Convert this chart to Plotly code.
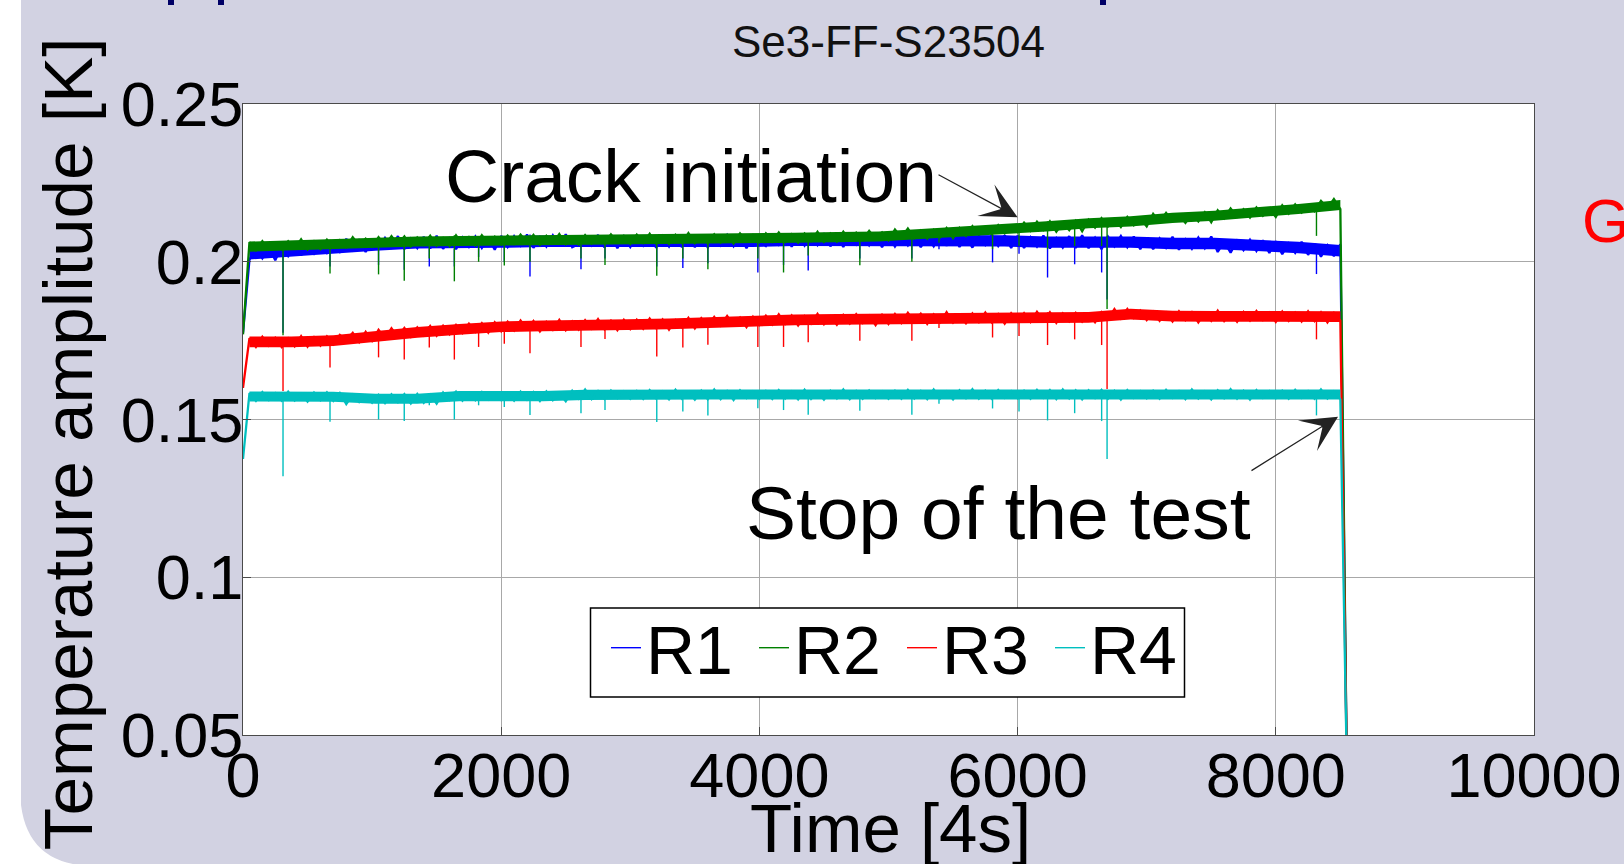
import plotly.graph_objects as go

# ---------------- data ----------------
T0 = 0      # first sample time [4s]
DT = 50

R1 = [
    0.1775, 0.2007, 0.2041, 0.2011, 0.2046, 0.2005, 0.2050, 0.2018, 0.2054, 0.2020,
    0.2057, 0.2026, 0.2059, 0.2028, 0.2062, 0.2032, 0.2073, 0.2037, 0.2071, 0.2031,
    0.2068, 0.2042, 0.2076, 0.2046, 0.2081, 0.2040, 0.2073, 0.2043, 0.2079, 0.2042,
    0.2082, 0.2041, 0.2074, 0.2040, 0.2077, 0.2047, 0.2080, 0.2044, 0.2078, 0.2038,
    0.2082, 0.2047, 0.2081, 0.2051, 0.2086, 0.2044, 0.2078, 0.2048, 0.2084, 0.2050,
    0.2087, 0.2046, 0.2056, 0.2082, 0.2052, 0.2085, 0.2045, 0.2083, 0.2043, 0.2080,
    0.2047, 0.2081, 0.2051, 0.2086, 0.2044, 0.2078, 0.2048, 0.2084, 0.2046, 0.2087,
    0.2046, 0.2079, 0.2045, 0.2082, 0.2052, 0.2085, 0.2049, 0.2083, 0.2043, 0.2080,
    0.2066, 0.2050, 0.2084, 0.2054, 0.2088, 0.2048, 0.2081, 0.2051, 0.2086, 0.2053,
    0.2090, 0.2049, 0.2082, 0.2047, 0.2085, 0.2055, 0.2087, 0.2052, 0.2086, 0.2046,
    0.2083, 0.2048, 0.2082, 0.2052, 0.2086, 0.2046, 0.2079, 0.2049, 0.2085, 0.2051,
    0.2088, 0.2047, 0.2080, 0.2045, 0.2083, 0.2053, 0.2085, 0.2050, 0.2084, 0.2044,
    0.2082, 0.2044, 0.2078, 0.2048, 0.2083, 0.2042, 0.2075, 0.2045, 0.2081, 0.2044,
    0.2084, 0.2043, 0.2076, 0.2040, 0.2080, 0.2049, 0.2082, 0.2046, 0.2080, 0.2040,
    0.2077, 0.2040, 0.2074, 0.2044, 0.2079, 0.2038, 0.2071, 0.2041, 0.2077, 0.2043,
    0.2080, 0.2031, 0.2064, 0.2029, 0.2067, 0.2037, 0.2070, 0.2034, 0.2068, 0.2028,
    0.2065, 0.2024, 0.2058, 0.2028, 0.2063, 0.2022, 0.2057, 0.2016, 0.2052, 0.2018,
    0.2055, 0.0400,
]

R2 = [
    0.1770, 0.2062, 0.2036, 0.2065, 0.2039, 0.2059, 0.2040, 0.2065, 0.2042, 0.2071,
    0.2039, 0.2065, 0.2040, 0.2070, 0.2045, 0.2068, 0.2046, 0.2078, 0.2052, 0.2073,
    0.2048, 0.2078, 0.2052, 0.2081, 0.2055, 0.2080, 0.2049, 0.2077, 0.2054, 0.2082,
    0.2051, 0.2075, 0.2050, 0.2084, 0.2055, 0.2078, 0.2052, 0.2084, 0.2058, 0.2079,
    0.2055, 0.2083, 0.2057, 0.2086, 0.2060, 0.2085, 0.2054, 0.2082, 0.2059, 0.2088,
    0.2056, 0.2078, 0.2055, 0.2084, 0.2058, 0.2081, 0.2058, 0.2087, 0.2061, 0.2082,
    0.2057, 0.2086, 0.2060, 0.2089, 0.2058, 0.2083, 0.2057, 0.2085, 0.2060, 0.2091,
    0.2059, 0.2081, 0.2059, 0.2087, 0.2061, 0.2084, 0.2058, 0.2090, 0.2064, 0.2085,
    0.2062, 0.2090, 0.2064, 0.2093, 0.2063, 0.2087, 0.2061, 0.2089, 0.2066, 0.2095,
    0.2063, 0.2089, 0.2064, 0.2095, 0.2069, 0.2092, 0.2070, 0.2098, 0.2072, 0.2093,
    0.2068, 0.2102, 0.2076, 0.2105, 0.2075, 0.2099, 0.2073, 0.2101, 0.2078, 0.2107,
    0.2075, 0.2107, 0.2082, 0.2113, 0.2087, 0.2110, 0.2088, 0.2116, 0.2090, 0.2111,
    0.2094, 0.2124, 0.2098, 0.2127, 0.2101, 0.2128, 0.2095, 0.2123, 0.2100, 0.2130,
    0.2097, 0.2133, 0.2108, 0.2138, 0.2112, 0.2136, 0.2110, 0.2142, 0.2116, 0.2137,
    0.2112, 0.2152, 0.2126, 0.2155, 0.2129, 0.2149, 0.2123, 0.2151, 0.2128, 0.2157,
    0.2125, 0.2163, 0.2138, 0.2169, 0.2143, 0.2166, 0.2140, 0.2172, 0.2146, 0.2167,
    0.2142, 0.2179, 0.2153, 0.2182, 0.2156, 0.2176, 0.2160, 0.2193, 0.2170, 0.2199,
    0.2167, 0.0400,
]

R3 = [
    0.1600, 0.1758, 0.1730, 0.1762, 0.1734, 0.1759, 0.1730, 0.1757, 0.1732, 0.1764,
    0.1731, 0.1761, 0.1734, 0.1763, 0.1738, 0.1768, 0.1752, 0.1775, 0.1745, 0.1778,
    0.1749, 0.1784, 0.1757, 0.1789, 0.1761, 0.1790, 0.1762, 0.1792, 0.1767, 0.1796,
    0.1766, 0.1797, 0.1770, 0.1800, 0.1774, 0.1804, 0.1778, 0.1805, 0.1775, 0.1808,
    0.1780, 0.1810, 0.1782, 0.1814, 0.1786, 0.1812, 0.1779, 0.1809, 0.1784, 0.1816,
    0.1783, 0.1811, 0.1785, 0.1815, 0.1788, 0.1818, 0.1786, 0.1813, 0.1783, 0.1816,
    0.1787, 0.1816, 0.1788, 0.1820, 0.1790, 0.1817, 0.1785, 0.1815, 0.1792, 0.1822,
    0.1789, 0.1821, 0.1797, 0.1825, 0.1798, 0.1828, 0.1800, 0.1823, 0.1793, 0.1826,
    0.1800, 0.1829, 0.1801, 0.1833, 0.1803, 0.1830, 0.1798, 0.1828, 0.1804, 0.1835,
    0.1802, 0.1827, 0.1800, 0.1831, 0.1804, 0.1834, 0.1806, 0.1829, 0.1799, 0.1832,
    0.1803, 0.1834, 0.1806, 0.1838, 0.1809, 0.1835, 0.1803, 0.1833, 0.1808, 0.1840,
    0.1807, 0.1832, 0.1805, 0.1836, 0.1809, 0.1839, 0.1808, 0.1834, 0.1804, 0.1837,
    0.1810, 0.1837, 0.1809, 0.1841, 0.1813, 0.1840, 0.1806, 0.1836, 0.1811, 0.1838,
    0.1810, 0.1835, 0.1808, 0.1840, 0.1818, 0.1850, 0.1820, 0.1850, 0.1822, 0.1845,
    0.1815, 0.1842, 0.1813, 0.1839, 0.1811, 0.1843, 0.1815, 0.1840, 0.1808, 0.1838,
    0.1813, 0.1845, 0.1812, 0.1837, 0.1810, 0.1841, 0.1814, 0.1844, 0.1816, 0.1839,
    0.1809, 0.1842, 0.1813, 0.1839, 0.1811, 0.1843, 0.1812, 0.1840, 0.1808, 0.1838,
    0.1813, 0.0400,
]

R4 = [
    0.1375, 0.1584, 0.1559, 0.1587, 0.1562, 0.1583, 0.1560, 0.1588, 0.1560, 0.1582,
    0.1557, 0.1585, 0.1561, 0.1586, 0.1559, 0.1584, 0.1549, 0.1579, 0.1555, 0.1576,
    0.1553, 0.1578, 0.1552, 0.1580, 0.1555, 0.1580, 0.1551, 0.1581, 0.1553, 0.1579,
    0.1550, 0.1586, 0.1562, 0.1588, 0.1560, 0.1585, 0.1561, 0.1587, 0.1563, 0.1584,
    0.1562, 0.1585, 0.1560, 0.1588, 0.1563, 0.1587, 0.1559, 0.1589, 0.1561, 0.1583,
    0.1558, 0.1591, 0.1566, 0.1595, 0.1565, 0.1590, 0.1565, 0.1592, 0.1568, 0.1589,
    0.1566, 0.1590, 0.1565, 0.1593, 0.1567, 0.1589, 0.1564, 0.1594, 0.1566, 0.1588,
    0.1563, 0.1591, 0.1564, 0.1595, 0.1565, 0.1590, 0.1562, 0.1592, 0.1568, 0.1589,
    0.1566, 0.1590, 0.1565, 0.1593, 0.1567, 0.1589, 0.1564, 0.1594, 0.1565, 0.1588,
    0.1563, 0.1591, 0.1567, 0.1595, 0.1565, 0.1590, 0.1566, 0.1592, 0.1568, 0.1589,
    0.1566, 0.1591, 0.1566, 0.1594, 0.1567, 0.1590, 0.1565, 0.1595, 0.1567, 0.1589,
    0.1564, 0.1592, 0.1568, 0.1596, 0.1566, 0.1591, 0.1566, 0.1593, 0.1569, 0.1590,
    0.1567, 0.1591, 0.1566, 0.1594, 0.1569, 0.1593, 0.1565, 0.1595, 0.1567, 0.1592,
    0.1564, 0.1592, 0.1568, 0.1594, 0.1566, 0.1591, 0.1563, 0.1593, 0.1569, 0.1590,
    0.1567, 0.1591, 0.1566, 0.1594, 0.1569, 0.1590, 0.1565, 0.1595, 0.1567, 0.1589,
    0.1564, 0.1592, 0.1568, 0.1596, 0.1566, 0.1591, 0.1563, 0.1593, 0.1569, 0.1590,
    0.1567, 0.1591, 0.1566, 0.1594, 0.1569, 0.1590, 0.1566, 0.1595, 0.1567, 0.1589,
    0.1564, 0.0400,
]

# dense core of each noisy band (upper / lower edge), sampled coarsely
BAND_T0 = 50
BAND_DT = 325
R1_HI = [0.2043, 0.2053, 0.2063, 0.2071, 0.2078, 0.2078, 0.2080, 0.2083, 0.2083, 0.2083,
         0.2083, 0.2083, 0.2083, 0.2086, 0.2086, 0.2086, 0.2084, 0.2084, 0.2084, 0.2080,
         0.2080, 0.2080, 0.2076, 0.2076, 0.2070, 0.2063, 0.2053]
R1_LO = [0.2007, 0.2017, 0.2027, 0.2035, 0.2042, 0.2042, 0.2044, 0.2047, 0.2047, 0.2047,
         0.2047, 0.2047, 0.2047, 0.2050, 0.2050, 0.2050, 0.2048, 0.2048, 0.2048, 0.2044,
         0.2044, 0.2044, 0.2040, 0.2040, 0.2034, 0.2027, 0.2017]
R2_HI = [0.2064, 0.2068, 0.2072, 0.2078, 0.2080, 0.2082, 0.2083, 0.2085, 0.2085, 0.2086,
         0.2088, 0.2088, 0.2089, 0.2092, 0.2094, 0.2096, 0.2104, 0.2112, 0.2119, 0.2128,
         0.2138, 0.2144, 0.2155, 0.2162, 0.2173, 0.2183, 0.2196]
R2_LO = [0.2032, 0.2036, 0.2040, 0.2046, 0.2048, 0.2050, 0.2051, 0.2053, 0.2053, 0.2054,
         0.2056, 0.2056, 0.2057, 0.2060, 0.2062, 0.2064, 0.2072, 0.2080, 0.2087, 0.2096,
         0.2106, 0.2112, 0.2123, 0.2130, 0.2141, 0.2151, 0.2164]
R3_HI = [0.1763, 0.1763, 0.1767, 0.1781, 0.1793, 0.1803, 0.1811, 0.1814, 0.1817, 0.1818,
         0.1820, 0.1825, 0.1828, 0.1833, 0.1834, 0.1835, 0.1838, 0.1839, 0.1839, 0.1841,
         0.1841, 0.1851, 0.1845, 0.1844, 0.1843, 0.1843, 0.1843]
R3_LO = [0.1729, 0.1729, 0.1733, 0.1747, 0.1759, 0.1769, 0.1777, 0.1780, 0.1783, 0.1784,
         0.1786, 0.1791, 0.1794, 0.1799, 0.1800, 0.1801, 0.1804, 0.1805, 0.1805, 0.1807,
         0.1807, 0.1817, 0.1811, 0.1810, 0.1809, 0.1809, 0.1809]
R4_HI = [0.1589, 0.1589, 0.1588, 0.1582, 0.1582, 0.1590, 0.1590, 0.1590, 0.1594, 0.1595,
         0.1595, 0.1595, 0.1595, 0.1595, 0.1595, 0.1595, 0.1595, 0.1595, 0.1595, 0.1595,
         0.1595, 0.1595, 0.1595, 0.1595, 0.1595, 0.1595, 0.1595]
R4_LO = [0.1557, 0.1557, 0.1556, 0.1550, 0.1550, 0.1558, 0.1558, 0.1558, 0.1562, 0.1563,
         0.1563, 0.1563, 0.1563, 0.1563, 0.1563, 0.1563, 0.1563, 0.1563, 0.1563, 0.1563,
         0.1563, 0.1563, 0.1563, 0.1563, 0.1563, 0.1563, 0.1563]

# short downward dips (single samples) seen in all four signals
SPIKE_T = [310, 674, 1050, 1249, 1443, 1637, 1825, 2024, 2223, 2618, 2804, 3205, 3407, 3601,
           3988, 4187, 4378, 4778, 5181, 5391, 5806, 6011, 6232, 6442, 6651, 6693, 8315]
R1_SPIKE = [0.1775, 0.1985, 0.1990, 0.1975, 0.1985, 0.1985, 0.2015, 0.2000, 0.1953, 0.1976,
            0.2010, 0.1985, 0.1980, 0.1995, 0.1966, 0.1990, 0.1972, 0.2010, 0.2010, 0.2040,
            0.1998, 0.2025, 0.1950, 0.1992, 0.1966, 0.1880, 0.1961]
R2_SPIKE = [0.1767, 0.1963, 0.1960, 0.1940, 0.2010, 0.1938, 0.2000, 0.1988, 0.2000, 0.2010,
            0.1990, 0.1956, 0.2010, 0.1976, 0.2010, 0.1966, 0.2020, 0.1989, 0.2000, 0.2060,
            0.2040, 0.2050, 0.2040, 0.2050, 0.2050, 0.1850, 0.2082]
R3_SPIKE = [0.1590, 0.1665, 0.1697, 0.1690, 0.1728, 0.1690, 0.1730, 0.1740, 0.1710, 0.1730,
            0.1755, 0.1700, 0.1728, 0.1737, 0.1730, 0.1730, 0.1745, 0.1750, 0.1750, 0.1790,
            0.1760, 0.1765, 0.1736, 0.1754, 0.1736, 0.1597, 0.1754]
R4_SPIKE = [0.1320, 0.1493, 0.1500, 0.1495, 0.1545, 0.1500, 0.1545, 0.1540, 0.1514, 0.1520,
            0.1530, 0.1492, 0.1525, 0.1513, 0.1536, 0.1530, 0.1515, 0.1528, 0.1515, 0.1550,
            0.1535, 0.1525, 0.1497, 0.1520, 0.1495, 0.1375, 0.1513]

SERIES_NAMES = ["R1", "R2", "R3", "R4"]
SERIES_COLORS = ["#0000ff", "#008000", "#ff0000", "#00bfbf"]

X_TICKS = [0, 2000, 4000, 6000, 8000, 10000]
X_TICK_TEXT = ["0", "2000", "4000", "6000", "8000", "10000"]
Y_TICKS = [0.05, 0.1, 0.15, 0.2, 0.25]
Y_TICK_TEXT = ["0.05", "0.1", "0.15", "0.2", "0.25"]

CHART_TITLE = "Se3-FF-S23504"
X_TITLE = "Time [4s]"
Y_TITLE = "Temperature amplitude [K]"
NOTE_CRACK = "Crack initiation"
NOTE_STOP = "Stop of the test"

# ---------------- layout geometry (pixels) ----------------
W, H = 1624, 864
PL, PR, PT, PB = 243, 1534, 104, 735      # plot area box


def px(xp):
    return (xp - PL) / (PR - PL)


def py(yp):
    return (PB - yp) / (PB - PT)


FONT = "Liberation Sans, Arial, Helvetica, sans-serif"
LAVENDER = "#d2d2e2"

fig = go.Figure()
series = zip(SERIES_NAMES, SERIES_COLORS, [R1, R2, R3, R4],
             [R1_HI, R2_HI, R3_HI, R4_HI], [R1_LO, R2_LO, R3_LO, R4_LO],
             [R1_SPIKE, R2_SPIKE, R3_SPIKE, R4_SPIKE])
for name, col, vals, hi, lo, dips in series:
    fig.add_trace(go.Scatter(
        y=lo, x0=BAND_T0, dx=BAND_DT, mode="lines", legendgroup=name,
        showlegend=False, line=dict(color=col, width=0), hoverinfo="skip",
    ))
    fig.add_trace(go.Scatter(
        y=hi, x0=BAND_T0, dx=BAND_DT, mode="lines", legendgroup=name,
        showlegend=False, line=dict(color=col, width=0), fill="tonexty",
        fillcolor=col, hoverinfo="skip",
    ))
    fig.add_trace(go.Scatter(
        y=vals, x0=T0, dx=DT, mode="lines", name=name, legendgroup=name,
        showlegend=False, line=dict(color=col, width=2.3), hoverinfo="skip",
    ))
    sx, sy = [], []
    for t, d in zip(SPIKE_T, dips):
        top = vals[int(round((t - T0) / DT))]
        sx += [t, t, None]
        sy += [top, d, None]
    fig.add_trace(go.Scatter(
        x=sx, y=sy, mode="lines", name=name, legendgroup=name, showlegend=True,
        line=dict(color=col, width=1.4), hoverinfo="skip",
    ))

axis_common = dict(
    showgrid=True, gridcolor="#a8a8a8", gridwidth=1, zeroline=False,
    showline=True, linecolor="#4a4a4a", linewidth=1, mirror=True,
    ticks="inside", ticklen=8, tickcolor="#4a4a4a", tickwidth=1,
    tickfont=dict(family=FONT, size=63, color="#000000"),
    automargin=False, fixedrange=True,
)

fig.update_layout(
    template="none",
    width=W, height=H,
    margin=dict(l=PL, r=W - PR, t=PT, b=H - PB, pad=0),
    paper_bgcolor=LAVENDER,
    plot_bgcolor="#ffffff",
    font=dict(family=FONT, color="#000000"),
    showlegend=True,
    legend=dict(
        orientation="h", x=px(606), y=py(597), xanchor="left", yanchor="top",
        bgcolor="rgba(0,0,0,0)", borderwidth=0,
        font=dict(family=FONT, size=68, color="#000000"),
        traceorder="normal",
        entrywidth=103, entrywidthmode="pixels",
    ),
    xaxis=dict(range=[0, 10000], tickvals=X_TICKS, ticktext=X_TICK_TEXT,
               ticklabelstandoff=-15, **axis_common),
    yaxis=dict(range=[0.05, 0.25], tickvals=Y_TICKS, ticktext=Y_TICK_TEXT,
               ticklabelstandoff=-14, **axis_common),
)

shapes = [
    # slide background: white strip on the left and rounded bottom-left corner
    dict(type="rect", xref="paper", yref="paper", layer="below",
         x0=px(-5), x1=px(21), y0=py(-5), y1=py(870),
         fillcolor="#ffffff", line=dict(width=0)),
    dict(type="path", xref="paper", yref="paper", layer="below",
         path=(f"M {px(20)},{py(790)} Q {px(21)},{py(866)} {px(95)},{py(866)} "
               f"L {px(20)},{py(866)} Z"),
         fillcolor="#ffffff", line=dict(width=0)),
    # legend frame
    dict(type="rect", xref="paper", yref="paper", layer="above",
         x0=px(590.5), x1=px(1184.5), y0=py(697), y1=py(608),
         fillcolor="#ffffff", line=dict(color="#000000", width=1.5)),
]
# fragments of the cut-off slide heading at the top
for x0, x1 in [(168, 174), (218, 224), (1100, 1106)]:
    shapes.append(dict(type="rect", xref="paper", yref="paper", layer="above",
                       x0=px(x0), x1=px(x1), y0=py(5), y1=py(-2),
                       fillcolor="#000066", line=dict(width=0)))
fig.update_layout(shapes=shapes)

ann = []
ann.append(dict(text=CHART_TITLE, xref="paper", yref="paper", x=px(888), y=py(41.5),
                xanchor="center", yanchor="middle", showarrow=False,
                font=dict(family=FONT, size=44, color="#111111")))
ann.append(dict(text=X_TITLE, xref="paper", yref="paper", x=px(890), y=py(828.5),
                xanchor="center", yanchor="middle", showarrow=False,
                font=dict(family=FONT, size=69, color="#000000")))
ann.append(dict(text=Y_TITLE, xref="paper", yref="paper", x=px(67.5), y=py(443.7),
                xanchor="center", yanchor="middle", showarrow=False, textangle=-90,
                font=dict(family=FONT, size=69.3, color="#000000")))
ann.append(dict(text=NOTE_CRACK, xref="paper", yref="paper", x=px(691), y=py(176),
                xanchor="center", yanchor="middle", showarrow=False,
                font=dict(family=FONT, size=75, color="#000000")))
ann.append(dict(text=NOTE_STOP, xref="paper", yref="paper", x=px(998), y=py(513),
                xanchor="center", yanchor="middle", showarrow=False,
                font=dict(family=FONT, size=75, color="#000000")))
ann.append(dict(text="G", xref="paper", yref="paper", x=px(1580), y=py(221),
                xanchor="left", yanchor="middle", showarrow=False,
                font=dict(family=FONT, size=61, color="#ff0000")))
# arrows
ann.append(dict(text="", x=6000, y=0.2141, xref="x", yref="y",
                ax=5376, ay=0.2278, axref="x", ayref="y",
                showarrow=True, arrowhead=3, arrowsize=5, arrowwidth=1.2,
                arrowcolor="#222222"))
ann.append(dict(text="", x=8482, y=0.1509, xref="x", yref="y",
                ax=7800, ay=0.1335, axref="x", ayref="y",
                showarrow=True, arrowhead=3, arrowsize=5, arrowwidth=1.2,
                arrowcolor="#222222"))
fig.update_layout(annotations=ann)

fig.write_html("out.html")
